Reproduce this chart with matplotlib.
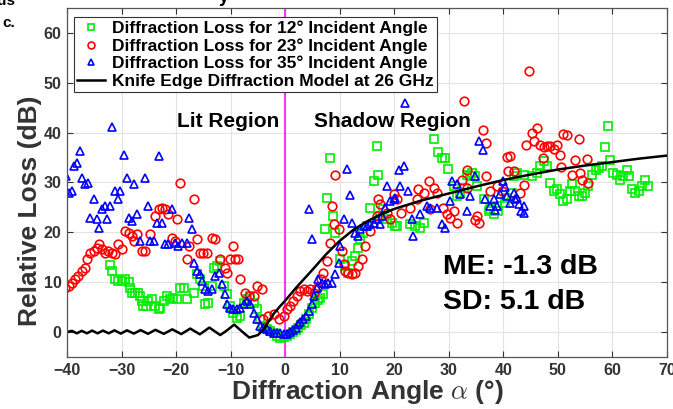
import matplotlib
matplotlib.use("Agg")
import matplotlib.pyplot as plt

plt.rcParams['font.family'] = ['Liberation Sans', 'DejaVu Sans']
plt.rcParams['mathtext.fontset'] = 'cm'

# ---------------- data ----------------
g_x = [-32.2, -31.8, -31.2, -30.6, -29.9, -29.3, -28.7, -28.4, -28.1, -27.5, -26.9, -26.6, -26.3, -26.0, -25.5,
       -25.1, -24.4, -23.8, -23.2, -22.9, -22.3, -21.7, -21.1, -20.5, -19.9, -19.2, -18.6, -18.0, -16.8, -16.2,
       -15.6, -15.0, -14.7, -14.1, -13.4, -13.1, -12.5, -11.9, -11.3, -10.7, -10.1, -9.5, -8.9, -8.2, -7.6,
       -7.0, -6.4, -5.8, -5.2, -4.6, -4.0, -3.4, -2.7, -2.1, -1.5, -0.9, -0.3,
       0.3, 0.9, 1.5, 2.0, 2.4, 2.9, 3.4, 3.9, 4.3, 4.9, 5.5, 6.0, 6.4, 7.0, 7.3, 7.6, 8.2, 8.7, 9.2,
       10.1, 11.0, 11.6, 12.2, 12.8, 13.4, 13.7, 14.2, 15.0, 15.6, 16.2, 16.8, 17.1, 17.4, 18.0, 18.6,
       19.6, 20.2, 20.5, 22.9, 23.8, 24.7, 25.4, 27.2, 28.1, 28.7, 29.3, 29.8, 30.9, 31.5, 32.1, 32.7,
       33.3, 33.9, 34.2, 34.8, 35.1, 36.4, 37.3, 37.6, 38.2, 38.8, 39.1, 40.3, 40.6, 41.6, 41.9, 42.5,
       43.8, 45.2, 46.1, 46.7, 47.4, 48.0, 48.6, 49.2, 49.8, 50.4, 51.0, 51.6, 52.3, 52.6, 53.2, 53.8,
       54.4, 55.0, 55.6, 56.2, 56.9, 57.5, 58.1, 58.7, 59.1, 59.6, 60.1, 60.8, 61.4, 62.0, 62.6, 63.1,
       63.6, 64.2, 64.8, 65.4, 66.0, 66.6]
g_y = [13.5, 12.3, 10.6, 10.3, 10.3, 10.6, 10.1, 8.9, 7.9, 7.9, 7.8, 7.3, 6.3, 5.3, 5.3,
       6.3, 6.6, 5.3, 4.6, 4.9, 6.3, 7.3, 6.6, 6.9, 6.7, 8.9, 8.9, 6.6, 7.9, 11.6,
       10.6, 9.3, 5.6, 5.9, 9.3, 12.9, 13.3, 14.3, 9.3, 7.6, 5.3, 3.9, 2.9, 3.3, 5.9,
       6.6, 7.3, 5.9, 4.6, 2.6, 1.3, 0.6, 0.2, -0.1, -0.7, -1.1, -0.9,
       -0.7, -0.4, 0.0, 0.4, 0.9, 1.4, 1.9, 2.7, 3.6, 4.9, 5.9, 6.4, 6.9, 7.6, 20.6, 26.9, 34.9, 23.3, 19.9,
       14.6, 13.3, 11.9, 14.3, 15.3, 16.9, 18.6, 19.9, 21.3, 24.9, 30.3, 37.3, 31.6, 23.3, 24.6, 22.6,
       21.9, 21.3, 21.3, 21.6, 21.3, 20.9, 21.9, 38.7, 36.1, 34.9, 34.9, 32.7, 29.3, 27.3, 27.9, 28.9,
       31.6, 31.3, 31.9, 31.3, 29.3, 26.6, 24.3, 24.6, 23.6, 25.3, 24.3, 25.9, 26.9, 27.9, 31.3, 31.9,
       31.6, 31.3, 31.9, 33.3, 34.3, 33.3, 29.9, 28.3, 28.6, 27.6, 26.3, 26.6, 28.3, 29.6, 28.3, 27.3,
       27.3, 27.9, 29.3, 31.6, 32.6, 32.9, 33.3, 37.1, 41.4, 34.5, 31.9, 31.6, 30.6, 31.3, 32.6, 31.3,
       28.6, 27.9, 28.3, 29.3, 30.6, 29.3]

r_x = [-40.3, -39.7, -39.1, -38.5, -37.9, -37.3, -36.7, -36.4, -35.8, -35.1, -34.5, -34.2, -33.6, -33.0, -32.4,
       -31.8, -31.2, -30.6, -29.9, -29.3, -28.7, -28.1, -27.8, -27.2, -26.3, -25.7, -24.7, -23.8, -23.2, -22.6,
       -22.0, -21.4, -20.8, -20.2, -19.9, -19.2, -18.0, -17.7, -16.8, -16.2, -15.6, -15.0, -14.4, -13.4, -12.8,
       -11.9, -11.0, -10.7, -10.1, -9.5, -9.2, -8.6, -8.2, -7.3, -6.7, -5.8, -5.2, -4.3, -4.0, -3.1, -2.1,
       -1.2, -0.3,
       0.3, 0.9, 1.5, 2.1, 2.8, 3.4, 4.0, 4.6, 5.2, 5.9, 6.5, 7.0, 7.6, 8.2, 8.6, 8.9, 9.2, 9.8, 10.4,
       10.7, 11.0, 11.6, 12.2, 12.8, 13.4, 14.1, 14.7, 15.6, 16.8, 17.1, 17.4, 18.6, 19.2, 19.9, 20.5,
       21.2, 22.9, 24.1, 24.4, 25.4, 26.3, 26.6, 27.2, 27.8, 29.0, 29.6, 30.2, 30.9, 31.5, 32.4, 32.7,
       33.3, 33.3, 34.8, 35.2, 35.5, 36.2, 36.9, 36.9, 37.6, 38.8, 39.7, 40.6, 40.9, 41.2, 41.9, 43.1,
       43.7, 44.2, 44.7, 45.2, 45.6, 46.1, 46.7, 47.2, 47.4, 48.0, 48.6, 49.3, 49.8, 50.3, 50.6, 51.0,
       51.6, 52.6, 53.2, 53.8, 54.1, 54.4, 55.3, 55.6]
r_y = [8.9, 9.3, 9.9, 10.6, 11.3, 12.3, 12.9, 14.6, 15.9, 16.3, 16.9, 17.6, 16.6, 15.9, 16.3,
       15.9, 15.6, 17.6, 16.6, 20.3, 19.9, 19.3, 18.3, 19.6, 16.3, 16.3, 19.6, 23.3, 24.6, 24.9,
       24.6, 23.6, 18.9, 18.3, 22.6, 29.9, 14.6, 17.3, 26.6, 18.6, 15.9, 15.9, 15.9, 18.9, 18.6,
       14.6, 12.9, 11.9, 14.6, 17.3, 14.6, 14.6, 10.6, 7.9, 7.3, 7.3, 9.3, 8.6, 2.6, 3.3, 3.6,
       2.6, 3.3,
       4.6, 5.3, 6.3, 7.3, 8.3, 8.6, 8.3, 8.6, 7.9, 8.9, 10.6, 11.9, 14.3, 17.9, 25.3, 21.6, 31.6, 20.6, 16.3,
       13.6, 12.3, 11.9, 11.6, 11.9, 13.3, 14.6, 17.3, 20.3, 23.3, 26.6, 25.6, 23.9, 22.6, 27.6, 26.6,
       23.9, 24.9, 26.6, 28.6, 27.9, 30.3, 24.6, 28.9, 27.9, 24.9, 23.6, 22.9, 24.3, 21.9, 30.6, 46.3,
       32.6, 28.9, 22.4, 23.3, 21.9, 40.6, 37.9, 31.3, 28.3, 29.3, 28.3, 35.1, 32.3, 35.3, 32.3, 27.9,
       29.4, 37.6, 52.4, 39.9, 38.3, 40.9, 37.6, 34.9, 37.1, 37.3, 37.3, 36.7, 37.6, 35.6, 33.1, 39.8,
       39.6, 31.6, 34.5, 38.7, 31.9, 30.5, 34.7, 29.9]

b_x = [-40.1, -39.7, -39.1, -38.8, -38.2, -37.6, -37.3, -36.7, -36.1, -35.8, -35.1, -34.5, -34.2, -33.6, -33.0,
       -32.7, -32.1, -31.8, -31.2, -30.6, -30.2, -29.6, -29.0, -28.7, -28.1, -27.8, -27.2, -26.6, -25.7, -25.1,
       -24.7, -24.1, -23.5, -23.2, -22.6, -22.0, -21.4, -20.8, -20.2, -19.6, -19.0, -18.0, -17.7, -17.1, -16.8,
       -16.2, -15.6, -15.3, -14.7, -14.1, -13.4, -12.8, -12.2, -11.6, -11.0, -10.7, -10.1, -9.5, -8.9, -8.2,
       -7.6, -7.0, -6.4, -5.8, -5.2, -4.6, -4.0, -3.4, -2.7, -2.1, -1.5, -0.9, -0.3,
       0.3, 0.9, 1.4, 1.9, 2.4, 2.8, 3.3, 3.8, 4.3, 4.4, 4.9, 4.9, 5.2, 5.8, 6.1, 6.7, 7.3, 7.9, 8.6, 9.2,
       9.8, 10.1, 10.7, 11.3, 11.8, 12.2, 12.8, 13.3, 13.7, 14.4, 15.0, 15.6, 16.2, 16.8, 17.4, 17.7,
       18.3, 18.6, 19.2, 19.9, 20.2, 20.8, 21.1, 21.7, 22.0, 22.6, 23.2, 23.5, 24.7, 26.0, 26.6, 27.8,
       28.7, 29.3, 30.2, 30.6, 31.5, 32.1, 33.3, 33.9, 34.8, 35.6, 36.2, 36.7, 37.6, 38.2, 38.4, 38.8,
       39.4, 40.0, 40.3, 40.6, 41.2, 41.9, 42.2, 42.5, 42.8, 43.3, 43.7, 43.8]
b_y = [31.3, 27.9, 28.3, 33.3, 33.9, 36.3, 30.9, 29.6, 29.9, 22.9, 26.6, 22.6, 20.9, 24.6, 25.3,
       22.6, 25.3, 41.1, 28.3, 26.6, 28.3, 35.6, 30.9, 22.9, 22.3, 29.6, 23.6, 18.3, 30.9, 25.3,
       18.3, 18.3, 21.9, 35.3, 21.9, 17.6, 17.6, 24.6, 17.9, 17.3, 17.9, 17.9, 22.9, 20.6, 13.9,
       12.3, 11.6, 10.3, 8.6, 8.3, 8.6, 11.3, 11.9, 9.6, 7.6, 5.6, 4.9, 4.7, 4.7, 4.9,
       5.6, 6.3, 5.6, 3.9, 2.6, 1.3, 0.9, 0.6, 0.3, -0.1, -0.1, -0.1, -0.4,
       -0.3, 0.0, 0.4, 0.9, 1.6, 2.1, 2.7, 3.3, 24.6, 4.3, 18.6, 5.6, 7.3, 8.9, 10.6, 9.9, 9.6, 9.9, 9.9, 11.6,
       13.9, 17.3, 22.6, 32.7, 27.4, 21.9, 19.9, 19.3, 20.6, 21.3, 21.3, 21.6, 21.9, 22.6, 21.6, 23.3,
       24.9, 29.3, 26.3, 26.6, 26.9, 32.6, 29.3, 33.3, 45.9, 28.3, 22.6, 19.3, 23.6, 25.3, 24.9, 24.9,
       21.6, 20.9, 26.3, 30.3, 29.6, 27.6, 24.3, 27.3, 31.3, 38.3, 36.6, 26.6, 25.3, 26.6, 24.5, 25.3,
       27.6, 30.3, 29.0, 27.3, 25.9, 27.9, 26.6, 26.9, 25.6, 24.3, 25.3, 23.8]

ke_x = [-40.0, -39.1, -38.2, -37.3, -36.35, -35.4, -34.4, -33.4, -32.35, -31.3, -30.15, -29.0, -27.75,
        -26.5, -25.15, -23.8, -22.25, -20.7, -19.05, -17.4, -15.65, -13.9, -11.9, -10.6, -9.35, -8.0,
        -6.6, -5.0, -4.0, -3.0, -2.0, -1.0, 0.0, 1.0, 2.0, 3.0, 4.0, 5.0, 7.5, 10.0, 12.5, 15.0, 17.5,
        20.0, 25.0, 30.0, 35.0, 40.0, 45.0, 50.0, 55.0, 60.0, 65.0, 70.0]
ke_y = [0.0, 0.25, -0.25, 0.25, -0.25, 0.3, -0.25, 0.3, -0.25, 0.35, -0.3, 0.35, -0.3,
        0.4, -0.35, 0.45, -0.35, 0.55, -0.4, 0.7, -0.45, 0.9, -0.6, 0.4, 1.5, 0.2,
        -1.1, -0.6, 0.5, 2.2, 3.8, 5.1, 6.3, 7.6, 8.9, 10.1, 11.3, 12.5, 15.6, 18.3, 20.5, 22.2, 23.6,
        24.7, 26.4, 27.8, 29.2, 30.5, 31.6, 32.6, 33.4, 34.1, 34.8, 35.4]

xticks = [-40, -30, -20, -10, 0, 10, 20, 30, 40, 50, 60, 70]
yticks = [0, 10, 20, 30, 40, 50, 60]

# ---------------- figure ----------------
fig = plt.figure(figsize=(6.73, 4.09), dpi=100)
ax = fig.add_axes([67/673, 1-357/409, 600/673, 349/409])

ax.grid(True, color='#e3e3e3', linewidth=0.8)
ax.set_axisbelow(True)

ax.axvline(0, color='#ff33ff', linewidth=1.5, zorder=1)

mk = dict(linestyle='none', markerfacecolor='none', markersize=6.2, markeredgewidth=1.2)
ax.plot(g_x, g_y, marker='s', markeredgecolor='#00ee00', label='Diffraction Loss for 12° Incident Angle', **mk)
ax.plot(r_x, r_y, marker='o', markeredgecolor='#ff0000', label='Diffraction Loss for 23° Incident Angle', **mk)
ax.plot(b_x, b_y, marker='^', markeredgecolor='#0000ff', label='Diffraction Loss for 35° Incident Angle', **mk)
ax.plot(ke_x, ke_y, color='black', linewidth=1.8, label='Knife Edge Diffraction Model at 26 GHz')

ax.set_xlim(-40, 70)
ax.set_ylim(-5, 65)
ax.set_xticks(xticks)
ax.set_yticks(yticks)
ax.tick_params(direction='in', top=True, right=True, length=4, width=0.8, colors='#333333',
               labelsize=11.5, pad=4)
for lab in ax.get_xticklabels() + ax.get_yticklabels():
    lab.set_fontweight('bold')
for s in ax.spines.values():
    s.set_color('#555555')
    s.set_linewidth(0.9)

ax.set_xlabel(r'Diffraction Angle $\alpha$ (°)', fontsize=19, fontweight='bold', color='#333333', labelpad=0)
ax.set_ylabel('Relative Loss (dB)', fontsize=19, fontweight='bold', color='#333333')
ax.yaxis.set_label_coords(-0.042, 0.42)

leg = ax.legend(loc='upper left', bbox_to_anchor=(0.0117, 0.974), borderaxespad=0,
                prop={'weight': 'bold', 'size': 12.5}, frameon=True, fancybox=False,
                handlelength=1.6, handletextpad=0.4, borderpad=0.2, labelspacing=0.12,
                markerscale=0.8)
leg.get_frame().set_edgecolor('#333333')
leg.get_frame().set_linewidth(0.8)
leg.get_frame().set_alpha(1)

ax.text(-10.4, 42.2, 'Lit Region', fontsize=15, fontweight='bold', ha='center', va='center')
ax.text(19.6, 42.2, 'Shadow Region', fontsize=15, fontweight='bold', ha='center', va='center')
ax.text(29.0, 13.0, 'ME: -1.3 dB', fontsize=20.5, fontweight='bold', ha='left', va='center')
ax.text(29.0, 6.0, 'SD: 5.1 dB', fontsize=20.5, fontweight='bold', ha='left', va='center')

fig.text(15/673, 1-5/409, 'us', fontsize=11, fontweight='bold', ha='right', va='baseline')
fig.text(15/673, 1-27/409, 'c.', fontsize=11, fontweight='bold', ha='right', va='baseline')
fig.text(224/673, 1-2/409, 'y', fontsize=13, fontweight='bold', ha='center', va='baseline')

fig.savefig('out.png', dpi=100)
